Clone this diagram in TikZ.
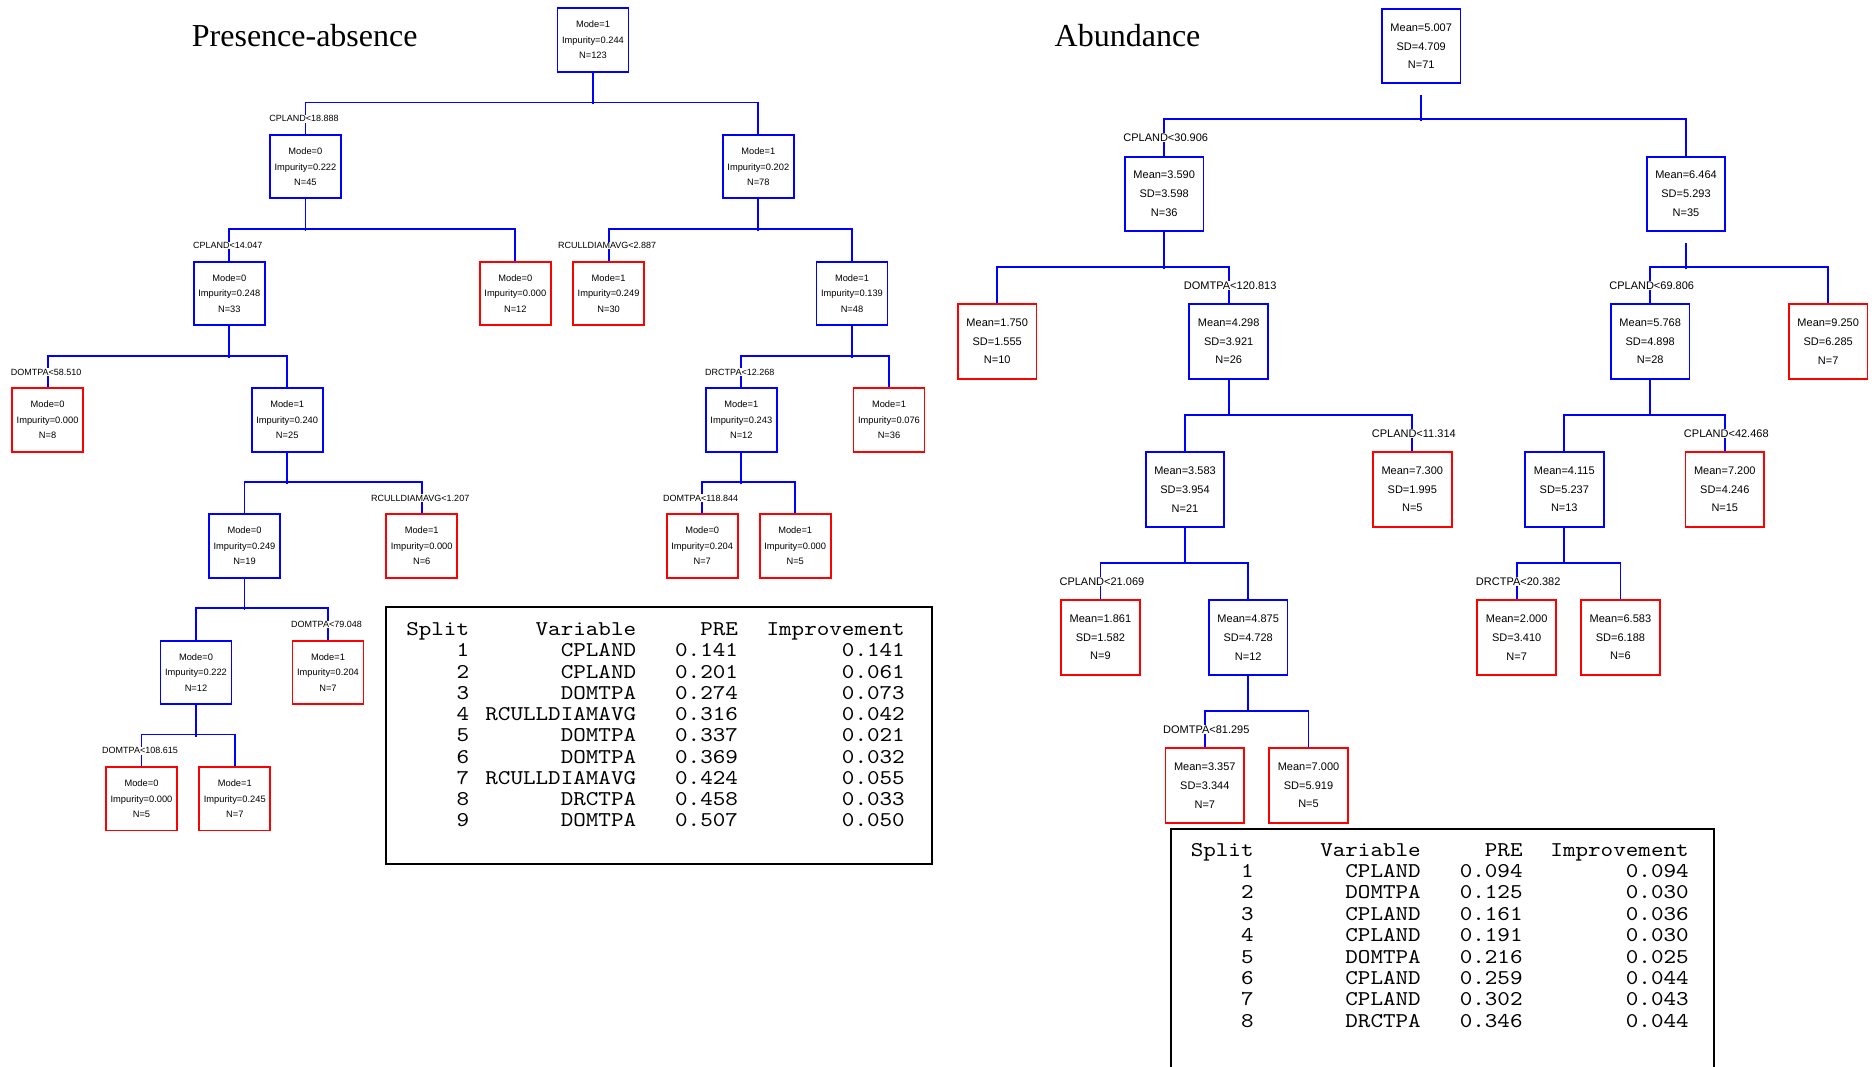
\documentclass[tikz,border=0pt]{standalone}
\usepackage{fontspec}
\setmainfont{Liberation Sans}
\newfontfamily\titlefont{Liberation Serif}
\newfontfamily\tablefont[Extension=.otf,FakeStretch=1.14]{lmmono10-regular}
\definecolor{treeblue}{RGB}{0,0,255}
\definecolor{treered}{RGB}{255,0,0}
\begin{document}
\begin{tikzpicture}[x=1pt,y=-1pt,
  box/.style={rectangle, line width=1.8pt, align=center, inner sep=0pt},
  pabox/.style={box, minimum width=71pt, minimum height=63.4pt, font=\fontsize{9.3}{15.5}\selectfont},
  abbox/.style={box, minimum width=78.7pt, minimum height=74.4pt, font=\fontsize{11}{18.7}\selectfont},
  inner/.style={draw=treeblue},
  leaf/.style={draw=treered},
  conn/.style={draw=treeblue, line width=1.8pt},
  palbl/.style={fill=white, inner sep=0.6pt, font=\fontsize{9}{10}\selectfont},
  ablbl/.style={fill=white, inner sep=0.6pt, font=\fontsize{11}{12}\selectfont},
  title/.style={anchor=base west, inner sep=0pt, font=\titlefont\fontsize{32}{36}\selectfont},
  cell/.style={anchor=base east, inner sep=0pt, font=\tablefont\fontsize{21}{24}\selectfont},
  frame/.style={draw=black, line width=2pt}
]
\fill[white] (0,0) rectangle (1875,1067);
\useasboundingbox (0,0) rectangle (1875,1067);

% ---------- titles ----------
\node[title] (tpa) at (191.7,46.7) {Presence-absence};
\node[title] (tab) at (1054.5,46.7) {Abundance};

% ---------- presence-absence tree ----------
\node[pabox,inner] (p0) at (593,40) {Mode=1\\Impurity=0.244\\N=123};
\node[pabox,inner] (p1) at (305.4,166.7) {Mode=0\\Impurity=0.222\\N=45};
\node[pabox,inner] (p2) at (758.3,166.7) {Mode=1\\Impurity=0.202\\N=78};
\node[pabox,inner] (p11) at (229.3,293.4) {Mode=0\\Impurity=0.248\\N=33};
\node[pabox,leaf] (p12) at (515.3,293.4) {Mode=0\\Impurity=0.000\\N=12};
\node[pabox,leaf] (p21) at (608.6,293.4) {Mode=1\\Impurity=0.249\\N=30};
\node[pabox,inner] (p22) at (852,293.4) {Mode=1\\Impurity=0.139\\N=48};
\node[pabox,leaf] (p111) at (47.6,420) {Mode=0\\Impurity=0.000\\N=8};
\node[pabox,inner] (p112) at (287.2,420) {Mode=1\\Impurity=0.240\\N=25};
\node[pabox,inner] (p221) at (741.3,420) {Mode=1\\Impurity=0.243\\N=12};
\node[pabox,leaf] (p222) at (889,420) {Mode=1\\Impurity=0.076\\N=36};
\node[pabox,inner] (p1121) at (244.5,546) {Mode=0\\Impurity=0.249\\N=19};
\node[pabox,leaf] (p1122) at (421.7,546) {Mode=1\\Impurity=0.000\\N=6};
\node[pabox,leaf] (p2211) at (702.2,546) {Mode=0\\Impurity=0.204\\N=7};
\node[pabox,leaf] (p2212) at (795.2,546) {Mode=1\\Impurity=0.000\\N=5};
\node[pabox,inner] (p11211) at (196,672.4) {Mode=0\\Impurity=0.222\\N=12};
\node[pabox,leaf] (p11212) at (328,672.4) {Mode=1\\Impurity=0.204\\N=7};
\node[pabox,leaf] (p112111) at (141.5,798.7) {Mode=0\\Impurity=0.000\\N=5};
\node[pabox,leaf] (p112112) at (234.8,798.7) {Mode=1\\Impurity=0.245\\N=7};

\foreach \p/\l/\r in {p0/p1/p2, p1/p11/p12, p2/p21/p22, p11/p111/p112,
  p22/p221/p222, p112/p1121/p1122, p221/p2211/p2212, p1121/p11211/p11212,
  p11211/p112111/p112112} {
  \draw[conn] (\p.south) -- ++(0,31.65);
  \draw[conn] (\l.north) -- ++(0,-31.65) -| (\r.north);
}

\foreach \c/\t in {p1/{CPLAND<18.888}, p11/{CPLAND<14.047}, p21/{RCULLDIAMAVG<2.887},
  p111/{DOMTPA<58.510}, p221/{DRCTPA<12.268}, p1122/{RCULLDIAMAVG<1.207},
  p2211/{DOMTPA<118.844}, p11212/{DOMTPA<79.048}, p112111/{DOMTPA<108.615}} {
  \node[palbl] (l\c) at ([xshift=-1.5pt,yshift=15.3pt]\c.north) {\t};
}

% ---------- abundance tree ----------
\node[abbox,inner] (a0) at (1421.2,46.2) {Mean=5.007\\SD=4.709\\N=71};
\node[abbox,inner] (a1) at (1164.2,193.9) {Mean=3.590\\SD=3.598\\N=36};
\node[abbox,inner] (a2) at (1686,193.9) {Mean=6.464\\SD=5.293\\N=35};
\node[abbox,leaf] (a11) at (997.2,341.5) {Mean=1.750\\SD=1.555\\N=10};
\node[abbox,inner] (a12) at (1228.7,341.5) {Mean=4.298\\SD=3.921\\N=26};
\node[abbox,inner] (a21) at (1650.2,341.5) {Mean=5.768\\SD=4.898\\N=28};
\node[abbox,leaf] (a22) at (1828.2,341.5) {Mean=9.250\\SD=6.285\\N=7};
\node[abbox,inner] (a121) at (1185,489.5) {Mean=3.583\\SD=3.954\\N=21};
\node[abbox,leaf] (a122) at (1412.3,489.5) {Mean=7.300\\SD=1.995\\N=5};
\node[abbox,inner] (a211) at (1564.3,489.5) {Mean=4.115\\SD=5.237\\N=13};
\node[abbox,leaf] (a212) at (1724.8,489.5) {Mean=7.200\\SD=4.246\\N=15};
\node[abbox,leaf] (a1211) at (1100.4,637.5) {Mean=1.861\\SD=1.582\\N=9};
\node[abbox,inner] (a1212) at (1248.2,637.5) {Mean=4.875\\SD=4.728\\N=12};
\node[abbox,leaf] (a2111) at (1516.7,637.5) {Mean=2.000\\SD=3.410\\N=7};
\node[abbox,leaf] (a2112) at (1620.4,637.5) {Mean=6.583\\SD=6.188\\N=6};
\node[abbox,leaf] (a12121) at (1204.8,785.5) {Mean=3.357\\SD=3.344\\N=7};
\node[abbox,leaf] (a12122) at (1308.5,785.5) {Mean=7.000\\SD=5.919\\N=5};

% stems that leave a small gap below their box
\draw[conn] ([yshift=-11pt]a0.south) -- ++(0,25.7);
\draw[conn] ([yshift=-11.3pt]a2.south) -- ++(0,25.4);
\foreach \p in {a1, a12, a21, a121, a211, a1212} {
  \draw[conn] (\p.south) -- ++(0,36.7);
}
\foreach \l/\r in {a1/a2, a11/a12, a21/a22, a121/a122, a211/a212,
  a1211/a1212, a2111/a2112, a12121/a12122} {
  \draw[conn] (\l.north) -- ++(0,-36.7) -| (\r.north);
}

\foreach \c/\t in {a1/{CPLAND<30.906}, a12/{DOMTPA<120.813}, a21/{CPLAND<69.806},
  a122/{CPLAND<11.314}, a212/{CPLAND<42.468}, a1211/{CPLAND<21.069},
  a2111/{DRCTPA<20.382}, a12121/{DOMTPA<81.295}} {
  \node[ablbl] (l\c) at ([xshift=1.5pt,yshift=17.9pt]\c.north) {\t};
}

% ---------- split summary, presence-absence ----------
\draw[frame] (386.4,606.7) rectangle (931.8,864);
\node[cell] (pah1) at (469.3,635.7) {Split};
\node[cell] (pah2) at (636.4,635.7) {Variable};
\node[cell] (pah3) at (738.2,635.7) {PRE};
\node[cell] (pah4) at (905,635.7) {Improvement};
\foreach \v/\p/\i [count=\k from 1] in {CPLAND/0.141/0.141, CPLAND/0.201/0.061,
  DOMTPA/0.274/0.073, RCULLDIAMAVG/0.316/0.042, DOMTPA/0.337/0.021,
  DOMTPA/0.369/0.032, RCULLDIAMAVG/0.424/0.055, DRCTPA/0.458/0.033,
  DOMTPA/0.507/0.050} {
  \node[cell] (pas\k) at (469.3,{635.7+\k*21.25}) {\k};
  \node[cell] (pav\k) at (636.4,{635.7+\k*21.25}) {\v};
  \node[cell] (pap\k) at (738.2,{635.7+\k*21.25}) {\p};
  \node[cell] (pai\k) at (905,{635.7+\k*21.25}) {\i};
}

% ---------- split summary, abundance ----------
\draw[frame] (1170.9,1070) -- (1170.9,829) -- (1714.3,829) -- (1714.3,1070);
\node[cell] (abh1) at (1253.8,856) {Split};
\node[cell] (abh2) at (1421,856) {Variable};
\node[cell] (abh3) at (1522.8,856) {PRE};
\node[cell] (abh4) at (1688.9,856) {Improvement};
\foreach \v/\p/\i [count=\k from 1] in {CPLAND/0.094/0.094, DOMTPA/0.125/0.030,
  CPLAND/0.161/0.036, CPLAND/0.191/0.030, DOMTPA/0.216/0.025,
  CPLAND/0.259/0.044, CPLAND/0.302/0.043, DRCTPA/0.346/0.044} {
  \node[cell] (abs\k) at (1253.8,{856+\k*21.4}) {\k};
  \node[cell] (abv\k) at (1421,{856+\k*21.4}) {\v};
  \node[cell] (abp\k) at (1522.8,{856+\k*21.4}) {\p};
  \node[cell] (abi\k) at (1688.9,{856+\k*21.4}) {\i};
}
\end{tikzpicture}
\end{document}
